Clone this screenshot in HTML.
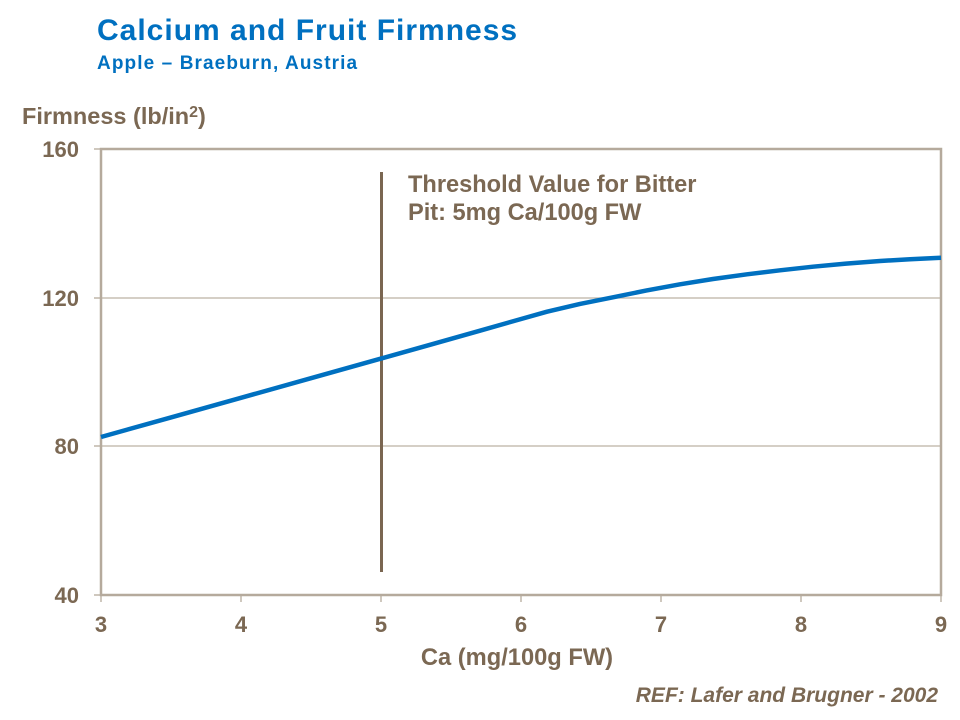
<!DOCTYPE html>
<html>
<head>
<meta charset="utf-8">
<style>
  html, body { margin: 0; padding: 0; background: #ffffff; }
  body { width: 960px; height: 720px; overflow: hidden; }
  svg { display: block; }
  text { font-family: "Liberation Sans", Arial, sans-serif; font-weight: bold; }
</style>
</head>
<body>
<svg width="960" height="720" viewBox="0 0 960 720" xmlns="http://www.w3.org/2000/svg">
  <rect x="0" y="0" width="960" height="720" fill="#ffffff"/>

  <!-- Titles -->
  <text x="97" y="40" font-size="30" fill="#0070c0" letter-spacing="1.0">Calcium and Fruit Firmness</text>
  <text x="97" y="69" font-size="19" fill="#0070c0" letter-spacing="1.1">Apple – Braeburn, Austria</text>

  <!-- Y axis title -->
  <text x="22" y="124" font-size="23.5" fill="#7b6853">Firmness (lb/in<tspan font-size="16" dy="-7">2</tspan><tspan dy="7">)</tspan></text>

  <!-- Gridlines -->
  <line x1="101" y1="298" x2="941" y2="298" stroke="#bcb2a5" stroke-width="1.2"/>
  <line x1="101" y1="446" x2="941" y2="446" stroke="#bcb2a5" stroke-width="1.2"/>

  <!-- Tick marks -->
  <g stroke="#b5aa9c" stroke-width="1.3">
    <line x1="94" y1="149" x2="101" y2="149"/>
    <line x1="94" y1="298" x2="101" y2="298"/>
    <line x1="94" y1="446" x2="101" y2="446"/>
    <line x1="94" y1="595" x2="101" y2="595"/>
    <line x1="101" y1="595" x2="101" y2="602"/>
    <line x1="241" y1="595" x2="241" y2="602"/>
    <line x1="381" y1="595" x2="381" y2="602"/>
    <line x1="521" y1="595" x2="521" y2="602"/>
    <line x1="661" y1="595" x2="661" y2="602"/>
    <line x1="801" y1="595" x2="801" y2="602"/>
    <line x1="941" y1="595" x2="941" y2="602"/>
  </g>

  <!-- Plot frame -->
  <rect x="101" y="149" width="840" height="446" fill="none" stroke="#b5aa9c" stroke-width="2.5"/>

  <!-- Threshold line -->
  <line x1="381.5" y1="172" x2="381.5" y2="572" stroke="#7a6651" stroke-width="3"/>

  <!-- Curve -->
  <polyline fill="none" stroke="#0070c0" stroke-width="4.5" stroke-linejoin="round" stroke-linecap="butt"
    points="101,437 171,417.4 241,397.8 311,378.2 381,358.6 430,344.8 480,330.7 514,321 547,311.7 580,303.9 613,297.3 646,290.6 680,284.3 713,279 747,274.3 780,270.3 813,266.7 846,263.6 880,261 910,259.2 941,257.7"/>

  <!-- Annotation -->
  <text x="408" y="192" font-size="23.6" fill="#7b6853">Threshold Value for Bitter</text>
  <text x="408" y="220" font-size="23.6" fill="#7b6853">Pit: 5mg Ca/100g FW</text>

  <!-- Y tick labels -->
  <g font-size="22" fill="#7b6853" text-anchor="end">
    <text x="79" y="157">160</text>
    <text x="79" y="306">120</text>
    <text x="79" y="454">80</text>
    <text x="79" y="603">40</text>
  </g>

  <!-- X tick labels -->
  <g font-size="22" fill="#7b6853" text-anchor="middle">
    <text x="101" y="632">3</text>
    <text x="241" y="632">4</text>
    <text x="381" y="632">5</text>
    <text x="521" y="632">6</text>
    <text x="661" y="632">7</text>
    <text x="801" y="632">8</text>
    <text x="941" y="632">9</text>
  </g>

  <!-- X axis title -->
  <text x="517" y="665" font-size="23.7" fill="#7b6853" text-anchor="middle">Ca (mg/100g FW)</text>

  <!-- Reference -->
  <text x="938" y="702" font-size="21" font-style="italic" fill="#7b6853" text-anchor="end">REF: Lafer and Brugner - 2002</text>
</svg>
</body>
</html>
